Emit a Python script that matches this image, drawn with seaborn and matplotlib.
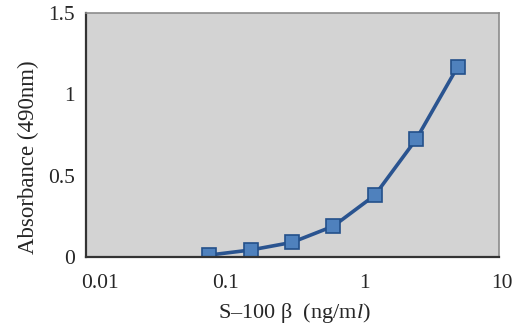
import numpy as np
import pandas as pd
import matplotlib
matplotlib.use("Agg")
import matplotlib.pyplot as plt
import matplotlib.transforms as mtransforms
import seaborn as sns

# Standard curve values
conc = [0.078, 0.156, 0.3125, 0.625, 1.25, 2.5, 5.0]
absorb = [0.012, 0.043, 0.09, 0.19, 0.38, 0.725, 1.17]
y_ticks = [0, 0.5, 1, 1.5]
y_tick_labels = ["0", "0.5", "1", "1.5"]
x_ticks = [0.01, 0.1, 1, 10]
x_tick_labels = ["0.01", "0.1", "1", "10"]

df = pd.DataFrame({"conc": conc, "abs": absorb})

sns.set_style("white")
plt.rcParams['font.family'] = ['Liberation Serif', 'DejaVu Serif']
plt.rcParams['mathtext.fontset'] = 'custom'
plt.rcParams['mathtext.it'] = 'Liberation Serif:italic'

fig, ax = plt.subplots(figsize=(5.14, 3.27), dpi=100)
fig.subplots_adjust(left=0.168, right=0.971, top=0.96, bottom=0.214)

ax.set_facecolor("#d3d3d3")
sns.lineplot(data=df, x="conc", y="abs", ax=ax, color="#2a5490", linewidth=2.6,
             marker="s", markersize=10, markerfacecolor="#4f81bd",
             markeredgecolor="#23508a", markeredgewidth=1.2)

ax.set_xscale("log")
ax.set_xlim(0.01, 10)
ax.set_ylim(0, 1.5)
ax.set_xticks(x_ticks)
ax.set_xticklabels(x_tick_labels)
ax.minorticks_off()
ax.set_yticks(y_ticks)
ax.set_yticklabels(y_tick_labels)
ax.tick_params(axis="x", length=0, pad=12, labelsize=15.5)
ax.tick_params(axis="y", direction="in", length=4, width=1, color="#333333",
               pad=8, labelsize=15.5)

# nudge x labels like the original
shifts = [14, 2, 3, 3]
for lab, dx in zip(ax.get_xticklabels(), shifts):
    lab.set_transform(lab.get_transform() +
                      mtransforms.ScaledTranslation(dx / 100, 0, fig.dpi_scale_trans))

for side in ["left", "bottom"]:
    ax.spines[side].set_color("#333333")
    ax.spines[side].set_linewidth(1.6)
for side in ["top", "right"]:
    ax.spines[side].set_visible(True)
    ax.spines[side].set_color("#8c8c8c")
    ax.spines[side].set_linewidth(1.2)

ax.set_xlabel(r"S‒100 β  (ng/m$\mathit{l}$)", fontsize=16)
ax.xaxis.set_label_coords(0.505, -0.18)
ax.set_ylabel("Absorbance (490nm)", fontsize=16.5)
ax.yaxis.set_label_coords(-0.115, 0.41)

plt.savefig("out.png", dpi=100)
